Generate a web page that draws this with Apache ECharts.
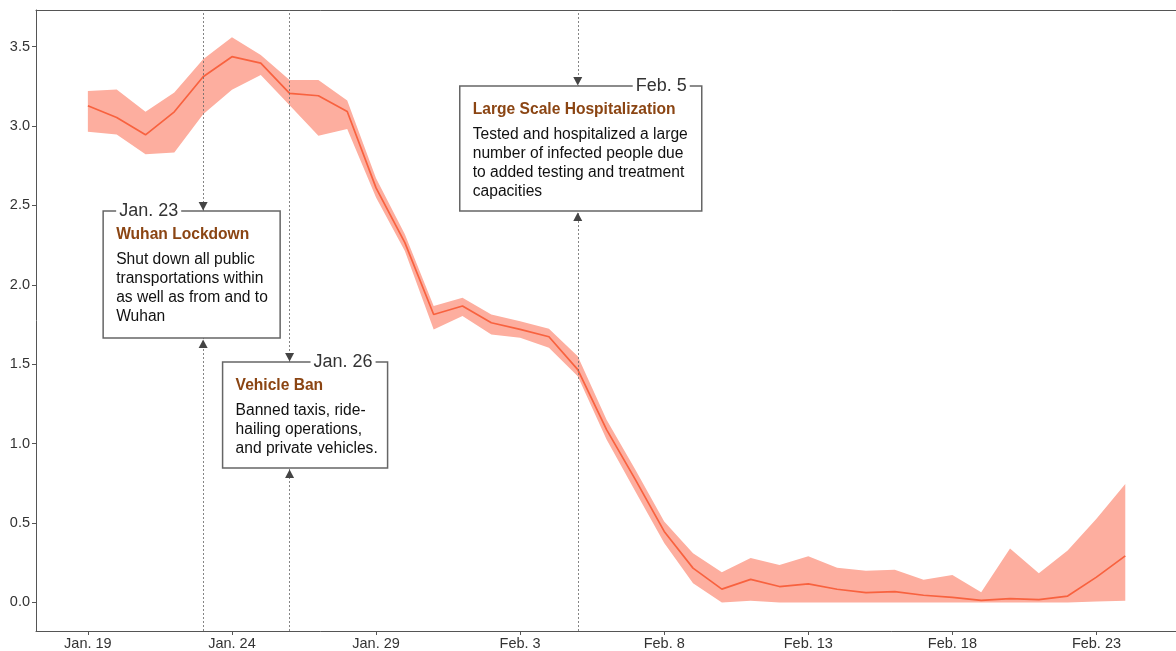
<!DOCTYPE html>
<html>
<head>
<meta charset="utf-8">
<script src="https://cdn.jsdelivr.net/npm/echarts@6/dist/echarts.min.js"></script>
<style>
  html, body { margin: 0; padding: 0; background: #fff; }
  #chart { width: 1176px; height: 651px; }
</style>
</head>
<body>
<div id="chart"></div>
<script>
const days = [
  'Jan. 19', 'Jan. 20', 'Jan. 21', 'Jan. 22', 'Jan. 23', 'Jan. 24', 'Jan. 25', 'Jan. 26',
  'Jan. 27', 'Jan. 28', 'Jan. 29', 'Jan. 30', 'Jan. 31', 'Feb. 1', 'Feb. 2', 'Feb. 3',
  'Feb. 4', 'Feb. 5', 'Feb. 6', 'Feb. 7', 'Feb. 8', 'Feb. 9', 'Feb. 10', 'Feb. 11',
  'Feb. 12', 'Feb. 13', 'Feb. 14', 'Feb. 15', 'Feb. 16', 'Feb. 17', 'Feb. 18', 'Feb. 19',
  'Feb. 20', 'Feb. 21', 'Feb. 22', 'Feb. 23', 'Feb. 24',
]

const meanValues = [
  3.127, 3.053, 2.944, 3.089, 3.31, 3.436, 3.396, 3.205,
  3.19, 3.091, 2.61, 2.265, 1.813, 1.866, 1.761, 1.719,
  1.673, 1.466, 1.088, 0.773, 0.447, 0.216, 0.084, 0.145,
  0.1, 0.117, 0.083, 0.062, 0.068, 0.045, 0.032, 0.013,
  0.024, 0.018, 0.04, 0.159, 0.293,
]

const upperValues = [
  3.22, 3.23, 3.09, 3.21, 3.42, 3.558, 3.446, 3.29,
  3.29, 3.16, 2.67, 2.318, 1.866, 1.918, 1.813, 1.77,
  1.723, 1.55, 1.15, 0.836, 0.51, 0.31, 0.19, 0.28,
  0.235, 0.29, 0.218, 0.2, 0.205, 0.142, 0.172, 0.064,
  0.34, 0.184, 0.327, 0.527, 0.745,
]

const lowerValues = [
  2.963, 2.946, 2.822, 2.833, 3.074, 3.228, 3.32, 3.131,
  2.938, 2.98, 2.55, 2.213, 1.719, 1.803, 1.687, 1.666,
  1.603, 1.424, 1.025, 0.699, 0.374, 0.12, 0.0, 0.01,
  0.0, 0.0, 0.0, 0.0, 0.0, 0.0, 0.0, 0.0,
  0.0, 0.0, 0.0, 0.005, 0.01,
]

const xTickLabels = ['Jan. 19', 'Jan. 24', 'Jan. 29', 'Feb. 3', 'Feb. 8', 'Feb. 13', 'Feb. 18', 'Feb. 23']
const yTickValues = [0, 0.5, 1, 1.5, 2, 2.5, 3, 3.5]

const eventDays = ['Jan. 23', 'Jan. 26', 'Feb. 5']
const eventTitles = ['Wuhan Lockdown', 'Vehicle Ban', 'Large Scale Hospitalization']
const eventTexts = [
  'Shut down all public\ntransportations within\nas well as from and to\nWuhan',
  'Banned taxis, ride-\nhailing operations,\nand private vehicles.',
  'Tested and hospitalized a large\nnumber of infected people due\nto added testing and treatment\ncapacities',
]

// box placement around each event line (pixels)
const boxLayout = [
  { left: -100, right: 77, top: 211, bottom: 338, labelSide: 'left' },
  { left: -67, right: 98, top: 362, bottom: 468, labelSide: 'right' },
  { left: -118, right: 124, top: 86, bottom: 211, labelSide: 'right' },
]

const font = '"Liberation Sans", Arial, sans-serif'
const lineColor = '#f8623f'
const bandColor = '#fdae9f'
const axisColor = '#555'
const xMin = -1.8
const xMax = 37.76

const xTickValues = xTickLabels.map((d) => days.indexOf(d))
const pairs = (vals) => vals.map((v, i) => [i, v])

const chart = echarts.init(document.getElementById('chart'), null, { renderer: 'canvas' })

chart.setOption({
  animation: false,
  grid: { left: 36, top: 10, right: 0, bottom: 20 },
  xAxis: [
    {
      type: 'value',
      min: xMin,
      max: xMax,
      splitLine: { show: false },
      axisLine: { show: true, onZero: false, lineStyle: { color: axisColor, width: 1 } },
      axisTick: { show: true, length: 4, customValues: xTickValues, lineStyle: { color: axisColor } },
      axisLabel: {
        customValues: xTickValues,
        formatter: (v) => days[Math.round(v)],
        color: '#333', fontSize: 14.5, fontFamily: font, margin: 5,
      },
    },
    {
      // top spine only
      type: 'value',
      position: 'top',
      min: xMin,
      max: xMax,
      splitLine: { show: false },
      axisLine: { show: true, onZero: false, lineStyle: { color: axisColor, width: 1 } },
      axisTick: { show: false },
      axisLabel: { show: false },
    },
  ],
  yAxis: {
    type: 'value',
    min: -0.18,
    max: 3.73,
    splitLine: { show: false },
    axisLine: { show: true, onZero: false, lineStyle: { color: axisColor, width: 1 } },
    axisTick: { show: true, length: 4, customValues: yTickValues, lineStyle: { color: axisColor } },
    axisLabel: {
      customValues: yTickValues,
      formatter: (v) => v.toFixed(1),
      color: '#333', fontSize: 14.5, fontFamily: font, margin: 6,
    },
  },
  series: [
    {
      name: 'band',
      type: 'custom',
      data: pairs(upperValues),
      silent: true,
      renderItem: (params, api) => {
        if (params.dataIndex !== 0) return
        const top = upperValues.map((v, i) => api.coord([i, v]))
        const bottom = lowerValues.map((v, i) => api.coord([i, v])).reverse()
        return {
          type: 'polygon',
          shape: { points: top.concat(bottom) },
          style: { fill: bandColor },
        }
      },
    },
    {
      name: 'mean',
      type: 'line',
      data: pairs(meanValues),
      symbol: 'none',
      lineStyle: { color: lineColor, width: 1.7 },
      silent: true,
      markLine: {
        silent: true,
        symbol: 'none',
        label: { show: false },
        lineStyle: { color: '#666', width: 0.8, type: [2, 2] },
        data: eventDays.map((d) => ({ xAxis: days.indexOf(d) })),
      },
    },
  ],
})

const elements = []
eventDays.forEach((d, k) => {
  const b = boxLayout[k]
  const ex = chart.convertToPixel({ gridIndex: 0 }, [days.indexOf(d), 0])[0]
  const x0 = ex + b.left
  const x1 = ex + b.right
  elements.push({
    type: 'rect', z: 100,
    shape: { x: x0, y: b.top, width: x1 - x0, height: b.bottom - b.top },
    style: { fill: '#fff', stroke: '#666', lineWidth: 1.5 },
  })
  elements.push({
    type: 'text', z: 101,
    style: {
      text: d, x: b.labelSide === 'left' ? x0 + 13 : x1 - 12, y: b.top,
      textAlign: b.labelSide === 'left' ? 'left' : 'right',
      align: b.labelSide === 'left' ? 'left' : 'right',
      textVerticalAlign: 'middle', verticalAlign: 'middle',
      font: '18px ' + font, fill: '#333',
      backgroundColor: '#fff', padding: [0, 3],
    },
  })
  elements.push({
    type: 'text', z: 101,
    style: {
      text: eventTitles[k], x: x0 + 13, y: b.top + 24,
      textVerticalAlign: 'middle', verticalAlign: 'middle',
      font: 'bold 15.6px ' + font, fill: '#8b4513',
    },
  })
  elements.push({
    type: 'text', z: 101,
    style: {
      text: eventTexts[k], x: x0 + 13, y: b.top + 39,
      textVerticalAlign: 'top', verticalAlign: 'top',
      font: '15.6px ' + font, fill: '#111', lineHeight: 19,
    },
  })
  elements.push({
    type: 'polygon', z: 101,
    shape: { points: [[ex - 4.5, b.top - 9], [ex + 4.5, b.top - 9], [ex, b.top - 0.5]] },
    style: { fill: '#444' },
  })
  elements.push({
    type: 'polygon', z: 101,
    shape: { points: [[ex - 4.5, b.bottom + 10], [ex + 4.5, b.bottom + 10], [ex, b.bottom + 1.5]] },
    style: { fill: '#444' },
  })
})

chart.setOption({ graphic: { elements } })
</script>
</body>
</html>
